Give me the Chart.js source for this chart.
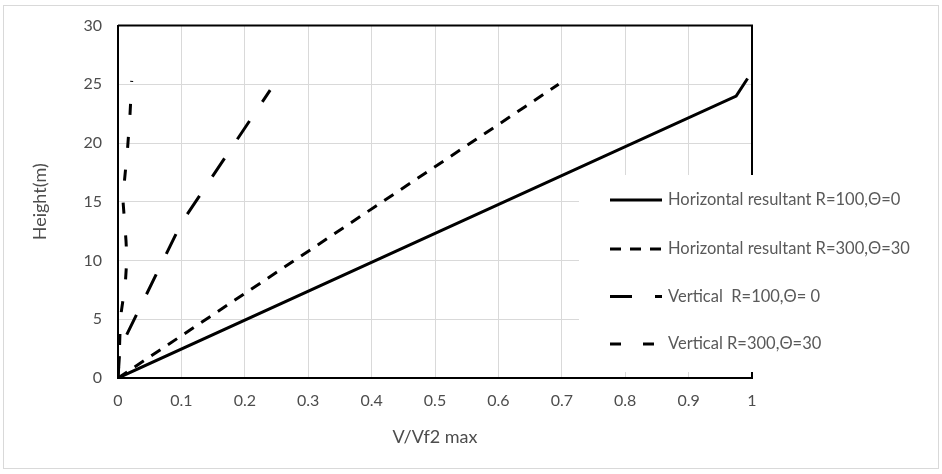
<!DOCTYPE html>
<html>
<head>
<meta charset="utf-8">
<script src="https://cdn.jsdelivr.net/npm/chart.js@4.4.1/dist/chart.umd.min.js"></script>
<style>
  html, body { margin: 0; padding: 0; background: #fff; }
  #wrap { width: 942px; height: 474px; }
</style>
</head>
<body>
<div id="wrap"><canvas id="heightChart" width="942" height="474"></canvas></div>
<script>
// nilai
const xTickLabels = ["0", "0.1", "0.2", "0.3", "0.4", "0.5", "0.6", "0.7", "0.8", "0.9", "1"];
const yTickLabels = ["0", "5", "10", "15", "20", "25", "30"];

const seriesNames = [
  "Horizontal resultant R=100,\u0398=0",
  "Horizontal resultant R=300,\u0398=30",
  "Vertical  R=100,\u0398= 0",
  "Vertical R=300,\u0398=30",
];

const hr100X = [0, 0.975, 0.993];
const hr100Y = [0, 24, 25.5];

const hr300X = [0, 0.695];
const hr300Y = [0, 25];

const v100X = [0, 0.003, 0.1, 0.225, 0.24];
const v100Y = [0, 2.5, 13.2, 23.3, 24.5];

const v300X = [0, 0.002, 0.004, 0.0115, 0.014, 0.0126, 0.008, 0.009, 0.0153, 0.019, 0.0216];
const v300Y = [0, 2, 5.2, 8, 10.2, 11.7, 15, 16.1, 19.7, 22.5, 25.3];

const FONT = "Lato";
const TEXT_COLOR = "#4d4d4d";

function toPoints(xs, ys) {
  return xs.map((x, i) => ({ x: x, y: ys[i] }));
}

function makeSet(label, xs, ys, dash) {
  return {
    label: label,
    data: toPoints(xs, ys),
    showLine: true,
    borderColor: "#000",
    backgroundColor: "#000",
    borderWidth: 3,
    borderDash: dash,
    pointRadius: 0,
    pointHoverRadius: 0,
    tension: 0,
    fill: false,
  };
}

const datasets = [
  makeSet(seriesNames[0], hr100X, hr100Y, []),
  makeSet(seriesNames[1], hr300X, hr300Y, [11, 9]),
  makeSet(seriesNames[2], v100X, v100Y, [22, 23]),
  makeSet(seriesNames[3], v300X, v300Y, [11, 22]),
];

// bingkai luar + latar putih
const framePlugin = {
  id: "frame",
  beforeDraw(chart) {
    const ctx = chart.ctx;
    ctx.save();
    ctx.fillStyle = "#fff";
    ctx.fillRect(0, 0, chart.width, chart.height);
    ctx.strokeStyle = "#d9d9d9";
    ctx.lineWidth = 1;
    ctx.strokeRect(3.5, 5.5, 935, 463);
    ctx.restore();
  },
  afterDatasetsDraw(chart) {
    // garis atas dan kanan area plot
    const a = chart.chartArea;
    const ctx = chart.ctx;
    ctx.save();
    ctx.strokeStyle = "#000";
    ctx.lineWidth = 2;
    ctx.beginPath();
    ctx.moveTo(a.left, a.top);
    ctx.lineTo(a.right, a.top);
    ctx.lineTo(a.right, a.bottom);
    ctx.stroke();
    ctx.restore();
  },
};

// legenda ala Excel, menimpa area plot
const legendPlugin = {
  id: "boxLegend",
  afterDraw(chart) {
    const ctx = chart.ctx;
    const boxX = 579, boxY = 175, boxW = 356, boxH = 197;
    const rows = [200, 249, 296.5, 344];
    ctx.save();
    ctx.fillStyle = "#fff";
    ctx.fillRect(boxX, boxY, boxW, boxH);
    chart.data.datasets.forEach((ds, i) => {
      ctx.strokeStyle = "#000";
      ctx.lineWidth = 3;
      ctx.setLineDash(ds.borderDash || []);
      ctx.beginPath();
      ctx.moveTo(610, rows[i]);
      ctx.lineTo(662, rows[i]);
      ctx.stroke();
      ctx.setLineDash([]);
      ctx.fillStyle = "#595959";
      ctx.font = "16.5px " + FONT;
      ctx.textBaseline = "middle";
      ctx.textAlign = "left";
      ctx.fillText(ds.label, 668, rows[i]);
    });
    ctx.restore();
  },
};

const ctx = document.getElementById("heightChart").getContext("2d");
const heightChart = new Chart(ctx, {
  type: "scatter",
  data: { datasets: datasets },
  plugins: [framePlugin, legendPlugin],
  options: {
    responsive: false,
    animation: false,
    devicePixelRatio: 1,
    layout: { padding: { left: 0, top: 16, right: 190, bottom: 0 } },
    plugins: {
      legend: { display: false },
      tooltip: { enabled: false },
    },
    scales: {
      x: {
        type: "linear",
        min: 0,
        max: 1,
        afterFit: (scale) => { scale.height = 96; },
        ticks: {
          stepSize: 0.1,
          padding: 13,
          color: TEXT_COLOR,
          font: { family: FONT, size: 16 },
          maxRotation: 0,
          callback: (v, i) => xTickLabels[i],
        },
        grid: { color: "#d9d9d9", lineWidth: 1, drawTicks: false },
        border: { color: "#000", width: 2 },
        title: {
          display: true,
          text: "V/Vf2 max",
          color: TEXT_COLOR,
          font: { family: FONT, size: 18 },
          padding: { top: 0, bottom: 26 },
        },
      },
      y: {
        type: "linear",
        min: 0,
        max: 30,
        afterFit: (scale) => { scale.width = 118; },
        ticks: {
          stepSize: 5,
          padding: 16,
          color: TEXT_COLOR,
          font: { family: FONT, size: 16 },
          callback: (v, i) => yTickLabels[i],
        },
        grid: { color: "#d9d9d9", lineWidth: 1, drawTicks: false },
        border: { color: "#000", width: 2 },
        title: {
          display: true,
          text: "Height(m)",
          color: TEXT_COLOR,
          font: { family: FONT, size: 18 },
          padding: { top: 29, bottom: 0 },
        },
      },
    },
  },
});
</script>
</body>
</html>
